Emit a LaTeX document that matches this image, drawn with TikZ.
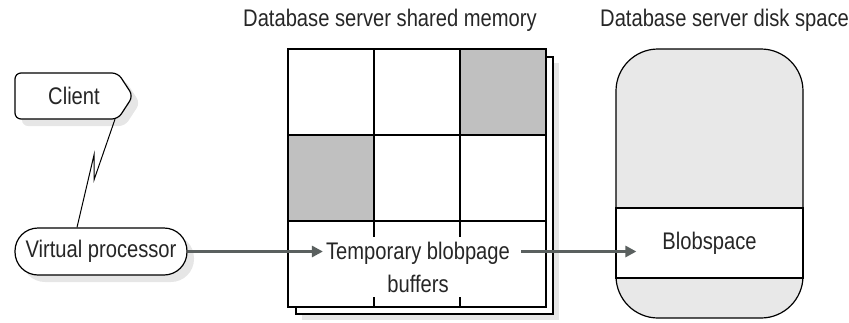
\documentclass[tikz,border=0pt]{standalone}
\usepackage{fontspec}
\setmainfont{Liberation Sans}[FakeStretch=0.84]
\usetikzlibrary{arrows.meta}
\definecolor{arrowgray}{HTML}{5A605F}
\definecolor{shadowgray}{HTML}{E6E6E6}
\definecolor{cellgray}{HTML}{C0C0C0}
\definecolor{diskgray}{HTML}{E8E8E8}
\definecolor{textgray}{HTML}{262626}
\begin{document}
\begin{tikzpicture}[x=1pt,y=-1pt,
  font=\fontsize{24}{33}\selectfont, text=textgray,
  flow/.style={draw=arrowgray, line width=3.5pt, -{Triangle[length=11pt,width=11pt]}},
  outline/.style={draw=black, line width=1.2pt},
  shadowfill/.style={fill=shadowgray},
  title/.style={anchor=base west, inner sep=0pt}]
\useasboundingbox (0,0) rectangle (849,322);

% titles
\node[title] (t1) at (243,26) {Database server shared memory};
\node[title] (t2) at (600,26) {Database server disk space};

% client
\fill[shadowfill, rounded corners=6pt] (22,80) -- (125,80) -- (140,103) -- (125,126) -- (22,126) -- cycle;
\draw[outline, fill=white, rounded corners=6pt] (15,73) -- (118,73) -- (133,96) -- (118,119) -- (15,119) -- cycle;
\node[inner sep=0pt, minimum width=118pt, minimum height=46pt] (client) at (74,96) {Client};

% virtual processor
\fill[shadowfill, rounded corners=23pt] (22,235) rectangle (194,282);
\node[outline, fill=white, rounded corners=23pt, minimum width=172pt, minimum height=47pt, inner sep=1pt] (vp) at (101,251.5) {Virtual processor};

% lightning connector
\coordinate (z1) at (94,180);
\coordinate (z2) at (94,155);
\draw[black, line width=1pt] ([xshift=41pt]client.south) -- (z1) -- (z2) -- ([xshift=-24pt]vp.north);

% shared memory pages
\fill[shadowfill] (302,63) rectangle (559,320);
\draw[outline, fill=white] (296,57) rectangle (553,314);
\fill[white] (288,49) rectangle (546,307);
\fill[cellgray] (460,49) rectangle (546,135);
\fill[cellgray] (288,135) rectangle (374,221);
\draw[outline] (374,49) -- (374,307) (460,49) -- (460,307)
               (288,135) -- (546,135) (288,221) -- (546,221);
\draw[outline] (288,49) rectangle (546,307);
\node[fill=white, align=center, inner xsep=3pt, inner ysep=5pt] (tmp) at (418,267) {Temporary blobpage\\buffers};

% disk space
\draw[outline, fill=diskgray, rounded corners=42pt] (616,49) rectangle (803,318);
\node[outline, fill=white, minimum width=187pt, minimum height=70pt, inner sep=0pt] (blob) at (709.5,243) {Blobspace};

% flow arrows
\draw[flow] (vp.east) -- (vp.east -| tmp.west);
\draw[flow] ([xshift=8pt]tmp.east |- vp.east) -- ([xshift=21pt]blob.west |- vp.east);
\end{tikzpicture}
\end{document}
